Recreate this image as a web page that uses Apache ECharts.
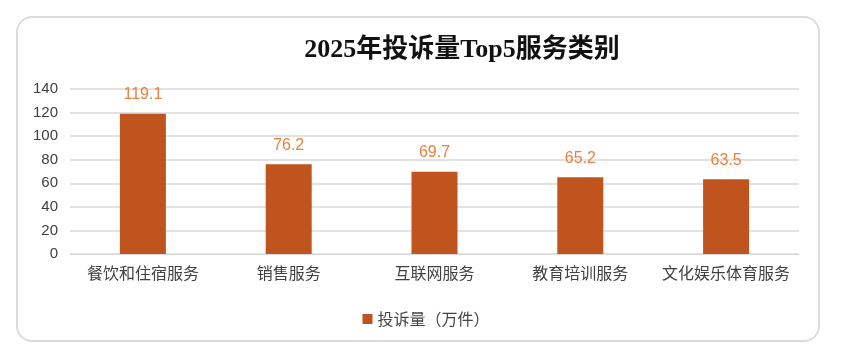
<!DOCTYPE html>
<html><head><meta charset="utf-8">
<script src="https://cdn.jsdelivr.net/npm/echarts@6/dist/echarts.min.js"></script>
<style>
html,body{margin:0;padding:0;background:#fff;}
#wrap{position:relative;width:852px;height:358px;}
#frame{position:absolute;left:16px;top:16px;width:804px;height:326px;border:2px solid #dcdcdc;border-radius:16px;box-sizing:border-box;}
#chart{position:absolute;left:0;top:0;width:852px;height:358px;}
</style></head>
<body><div id="wrap"><div id="frame"></div><div id="chart"></div></div>
<script>
const categories = ['餐饮和住宿服务','销售服务','互联网服务','教育培训服务','文化娱乐体育服务'];
const values = [119.1, 76.2, 69.7, 65.2, 63.5];
const seriesName = '投诉量（万件）';
const titleText = '2025年投诉量Top5服务类别';

const chart = echarts.init(document.getElementById('chart'), null, {renderer:'canvas'});
chart.setOption({
  animation:false,
  title:{text:titleText,left:457,top:32,textAlign:'center',
    textStyle:{fontFamily:'"Liberation Serif","Noto Sans CJK SC",serif',fontSize:26,fontWeight:'bold',color:'#111'}},
  legend:{data:[seriesName],left:'center',top:306,itemWidth:10,itemHeight:10,icon:'rect',itemGap:8,
    textStyle:{fontFamily:'"Noto Sans CJK SC",sans-serif',fontSize:16,color:'#444'}},
  grid:{left:70,right:53,top:89,bottom:104},
  xAxis:{type:'category',data:categories,
    axisLine:{lineStyle:{color:'#d9d9d9'}},axisTick:{show:false},
    axisLabel:{interval:0,hideOverlap:false,fontFamily:'"Noto Sans CJK SC",sans-serif',fontSize:16,color:'#404040',margin:11}},
  yAxis:{type:'value',min:0,max:140,interval:20,
    axisLine:{show:false},axisTick:{show:false},
    splitLine:{lineStyle:{color:'#d9d9d9',width:1.5}},
    axisLabel:{fontFamily:'"Liberation Sans",Arial,sans-serif',fontSize:15,color:'#404040',margin:12}},
  series:[{name:seriesName,type:'bar',data:values,barWidth:46,
    itemStyle:{color:'#C0541F'},
    label:{show:true,position:'top',distance:11,fontFamily:'"Liberation Sans",Arial,sans-serif',fontSize:16,color:'#E8823F',formatter:p=>p.value.toFixed(1)}}]
});
</script></body></html>
